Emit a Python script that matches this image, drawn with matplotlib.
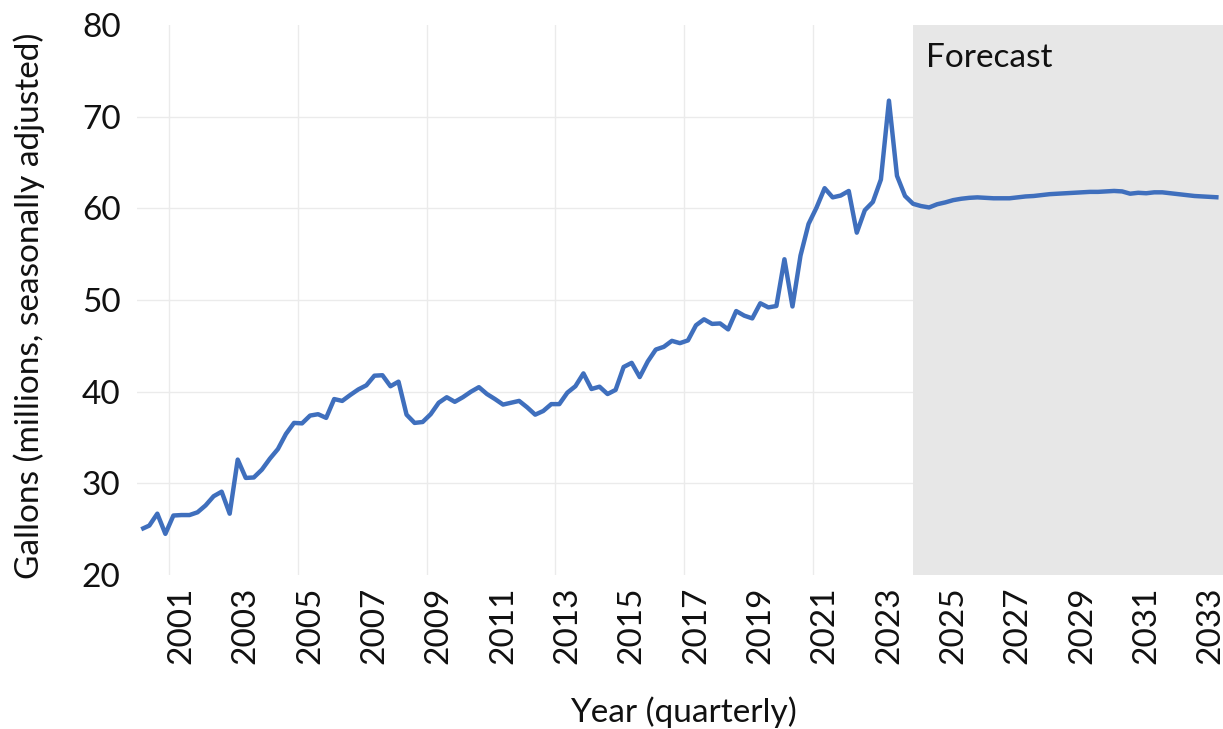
import matplotlib
matplotlib.use("Agg")
import matplotlib.pyplot as plt


# ---------------------------------------------------------
#  Data (quarterly, starting 2000 Q1)
# ---------------------------------------------------------

# observed values, 2000 Q1 .. 2023 Q4
history = [
    25.0, 25.4, 26.7, 24.5, 26.5, 26.55, 26.55, 26.85,
    27.6, 28.6, 29.1, 26.7, 32.6, 30.6, 30.65, 31.5,
    32.7, 33.75, 35.4, 36.6, 36.55, 37.4, 37.55, 37.15,
    39.2, 39.0, 39.65, 40.25, 40.7, 41.75, 41.8, 40.6,
    41.1, 37.5, 36.6, 36.7, 37.55, 38.8, 39.4, 38.9,
    39.4, 40.0, 40.5, 39.75, 39.2, 38.6, 38.8, 39.0,
    38.3, 37.5, 37.9, 38.65, 38.65, 39.9, 40.6, 42.0,
    40.3, 40.55, 39.75, 40.2, 42.7, 43.15, 41.6, 43.3,
    44.6, 44.9, 45.55, 45.3, 45.6, 47.25, 47.9, 47.4,
    47.45, 46.8, 48.8, 48.3, 48.0, 49.65, 49.2, 49.35,
    54.45, 49.3, 54.85, 58.3, 60.1, 62.2, 61.2, 61.4,
    61.9, 57.35, 59.8, 60.7, 63.15, 71.75, 63.55, 61.35,
]

# forecast values, 2024 Q1 onwards
forecast = [
    60.5, 60.25, 60.1, 60.45, 60.65, 60.9, 61.05, 61.15,
    61.2, 61.15, 61.1, 61.1, 61.1, 61.2, 61.3, 61.35,
    61.45, 61.55, 61.6, 61.65, 61.7, 61.75, 61.8, 61.8,
    61.85, 61.9, 61.85, 61.6, 61.7, 61.65, 61.75, 61.75,
    61.65, 61.55, 61.45, 61.35, 61.3, 61.25, 61.2,
]

tick_labels = [
    "2001", "2003", "2005", "2007", "2009", "2011", "2013", "2015", "2017",
    "2019", "2021", "2023", "2025", "2027", "2029", "2031", "2033",
]

y_ticks = [20, 30, 40, 50, 60, 70, 80]


# ---------------------------------------------------------
#  Styling
# ---------------------------------------------------------

LINE_COLOR = "#3f6fbd"
SHADE_COLOR = "#e7e7e7"
GRID_COLOR = "#ebebeb"
TEXT_COLOR = "#111111"
FONT_SIZE = 24

plt.rcParams["font.family"] = ["Lato", "DejaVu Sans"]
plt.rcParams["font.size"] = FONT_SIZE


def plot_chart() -> None:
    series = history + forecast
    x = list(range(len(series)))
    n = len(series)

    fig = plt.figure(figsize=(12.23, 7.29), dpi=100)
    ax = fig.add_axes([0.1122, 0.2111, 0.8878, 0.7546])

    # forecast shading
    ax.axvspan(len(history), n + 0.5, color=SHADE_COLOR, lw=0, zorder=1)

    ax.plot(x, series, color=LINE_COLOR, lw=3.2, zorder=3,
            solid_joinstyle="round", solid_capstyle="butt")

    ax.set_xlim(-0.5, n - 0.45)
    ax.set_ylim(20, 80)

    # labels on Q2 of every second year, gridlines every four years
    ax.set_xticks([5 + 8 * k for k in range(len(tick_labels))])
    ax.set_xticklabels(tick_labels, rotation=90, color=TEXT_COLOR)
    ax.set_xticks([3.5 + 16 * k for k in range(9)], minor=True)
    ax.set_yticks(y_ticks)
    ax.set_yticklabels([str(v) for v in y_ticks], color=TEXT_COLOR)

    ax.tick_params(axis="x", which="both", length=0, pad=8)
    ax.tick_params(axis="y", length=0, pad=12)

    ax.grid(axis="x", which="minor", color=GRID_COLOR, lw=1.0, zorder=0)
    ax.grid(axis="y", which="major", color=GRID_COLOR, lw=1.0, zorder=0)
    ax.grid(axis="x", which="major", visible=False)
    ygrid = ax.get_ygridlines()
    ygrid[0].set_visible(False)
    ygrid[-1].set_visible(False)
    ax.set_axisbelow(True)

    for spine in ax.spines.values():
        spine.set_visible(False)

    ax.text(0.7265, 0.924, "Forecast", transform=ax.transAxes,
            ha="left", va="baseline", color=TEXT_COLOR, zorder=4)

    ax.set_xlabel("Year (quarterly)", color=TEXT_COLOR)
    ax.xaxis.set_label_coords(0.5027, -0.249)
    ax.xaxis.label.set_va("center")

    ax.set_ylabel("Gallons (millions, seasonally adjusted)", color=TEXT_COLOR)
    ax.yaxis.set_label_coords(-0.0997, 0.49)
    ax.yaxis.label.set_va("center")

    fig.savefig("out.png", dpi=100)


if __name__ == "__main__":
    plot_chart()
